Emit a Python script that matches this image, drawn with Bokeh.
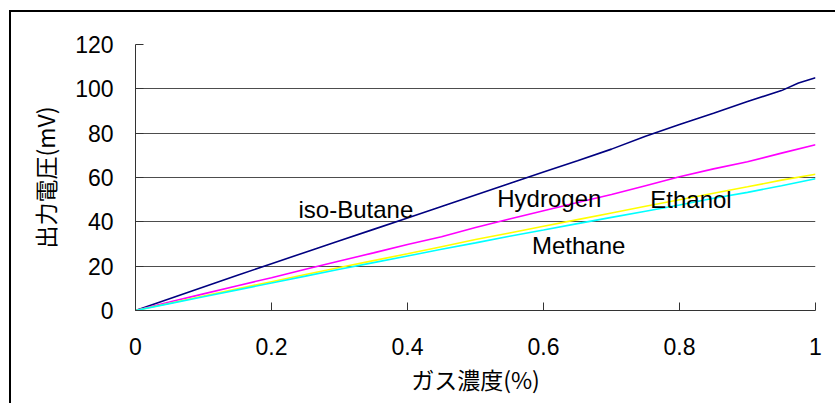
from bokeh.plotting import figure
from bokeh.models import Range1d, FixedTicker, Label
from bokeh.embed import file_html
from bokeh.resources import INLINE

x_vals = [0.0, 0.05, 0.1, 0.15, 0.2, 0.25, 0.3, 0.35, 0.4, 0.45, 0.5, 0.55, 0.6, 0.65, 0.7, 0.75, 0.8, 0.85, 0.9, 0.95, 1.0]
x_butane = [0.0, 0.05, 0.1, 0.15, 0.2, 0.25, 0.3, 0.35, 0.4, 0.45, 0.5, 0.55, 0.6, 0.65, 0.7, 0.75, 0.8, 0.85, 0.9, 0.95, 0.975, 1.0]
iso_butane = [0, 5.3, 10.6, 15.9, 21.1, 26.3, 31.5, 36.6, 41.7, 46.9, 52.1, 57.3, 62.5, 67.6, 72.8, 78.6, 83.9, 89.0, 94.3, 99.2, 102.6, 105.0]
hydrogen = [0, 3.8, 7.5, 11.2, 14.8, 18.6, 22.3, 26.0, 29.8, 33.3, 37.4, 41.3, 45.0, 48.7, 52.3, 56.3, 60.3, 63.9, 67.1, 71.0, 74.8]
ethanol = [0, 3.3, 6.5, 9.8, 13.0, 16.2, 19.4, 22.5, 25.6, 28.8, 32.0, 35.0, 38.0, 41.0, 44.0, 47.0, 50.0, 52.9, 55.8, 58.8, 61.5]
methane = [0, 3.1, 6.2, 9.3, 12.4, 15.5, 18.6, 21.6, 24.6, 27.6, 30.5, 33.5, 36.3, 39.2, 42.0, 44.8, 47.6, 50.6, 53.3, 56.3, 59.4]

x_ticks = [0, 0.2, 0.4, 0.6, 0.8, 1.0]
x_tick_labels = {0: "0", 0.2: "0.2", 0.4: "0.4", 0.6: "0.6", 0.8: "0.8", 1.0: "1"}
y_ticks = [0, 20, 40, 60, 80, 100, 120]

series_labels = ["iso-Butane", "Hydrogen", "Ethanol", "Methane"]
label_x = [0.2397, 0.532, 0.757, 0.583]
label_y = [45.5, 50.5, 50.3, 29.5]

x_title = "ガス濃度(%)"
y_title = "出力電圧(mV)"

W, H = 826, 393
p = figure(width=W, height=H, output_backend="svg", toolbar_location=None,
           x_range=Range1d(0, 1), y_range=Range1d(0, 120),
           min_border_left=124, min_border_right=22, min_border_top=32, min_border_bottom=95)
p.styles = {"border-top": "2px solid black", "border-left": "2px solid black",
            "margin-top": "10px", "margin-left": "9px"}
p.outline_line_color = None
p.background_fill_color = "white"
p.border_fill_color = "white"

p.xgrid.grid_line_color = None
p.ygrid.grid_line_color = "#4d4d4d"
p.ygrid.grid_line_width = 1
p.ygrid.ticker = FixedTicker(ticks=y_ticks)

p.xaxis.ticker = FixedTicker(ticks=x_ticks)
p.xaxis.major_label_overrides = x_tick_labels
p.yaxis.ticker = FixedTicker(ticks=y_ticks)
for ax in (p.xaxis, p.yaxis):
    ax.major_tick_in = 8
    ax.major_tick_out = 0
    ax.minor_tick_in = 0
    ax.minor_tick_out = 0
    ax.axis_line_color = "#333333"
    ax.major_tick_line_color = "#333333"
    ax.major_label_text_font = "Liberation Sans"
    ax.major_label_text_font_size = "23px"
    ax.major_label_text_color = "black"
    ax.axis_label_text_font = "Noto Sans CJK JP"
    ax.axis_label_text_font_size = "23px"
    ax.axis_label_text_font_style = "normal"
    ax.axis_label_text_color = "black"
p.xaxis.major_label_standoff = 27
p.yaxis.major_label_standoff = 22
p.xaxis.axis_label = x_title
p.yaxis.axis_label = y_title
p.xaxis.axis_label_standoff = 4
p.yaxis.axis_label_standoff = 10

p.line(x_butane, iso_butane, line_color="#000080", line_width=1.6)
p.line(x_vals, hydrogen, line_color="#FF00FF", line_width=1.6)
p.line(x_vals, ethanol, line_color="#FFFF00", line_width=1.6)
p.line(x_vals, methane, line_color="#00FFFF", line_width=1.6)

for t, lx, ly in zip(series_labels, label_x, label_y):
    p.add_layout(Label(x=lx, y=ly, text=t, text_font="Liberation Sans", text_font_size="24px",
                       text_color="black", text_baseline="alphabetic", text_align="left"))

open("out.html", "w").write(file_html(p, INLINE))
